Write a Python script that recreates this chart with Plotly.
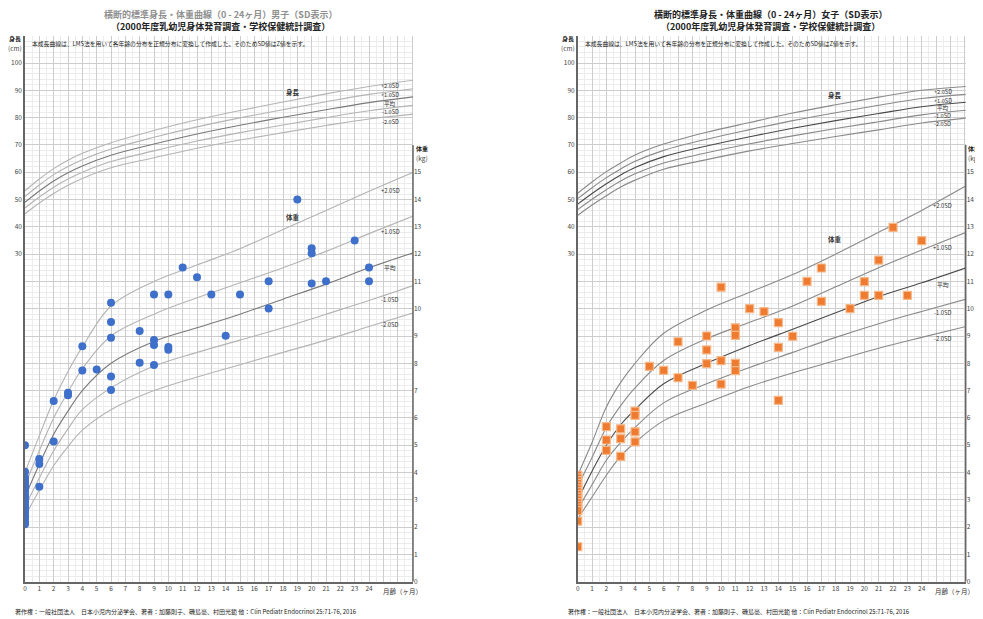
import plotly.graph_objects as go

W, H = 983, 619
OFF = 8                      # page body margin in the browser
FW, FH = W - OFF, H - OFF    # figure size so it fits the window

# ---------------- data ----------------
curve_months = [0, 1, 2, 3, 4, 6, 9, 12, 15, 18, 21, 24, 27.1]
sd_labels = ["+2.0SD", "+1.0SD", "平均", "-1.0SD", "-2.0SD"]
month_ticks = list(range(0, 25))
height_ticks = [30, 40, 50, 60, 70, 80, 90, 100]
weight_ticks = list(range(0, 16))

# boys height (cm)
boys_h_p2 = [53.2, 57.5, 61.3, 64.4, 66.9, 70.8, 75.3, 79.2, 82.6, 85.7, 88.7, 91.4, 93.7]
boys_h_p1 = [51.1, 55.3, 59.1, 62.1, 64.6, 68.5, 72.8, 76.6, 79.9, 82.9, 85.8, 88.5, 90.6]
boys_h_m0 = [49.0, 53.1, 56.8, 59.8, 62.3, 66.2, 70.3, 74.0, 77.2, 80.1, 82.9, 85.5, 87.6]
boys_h_n1 = [46.9, 50.9, 54.5, 57.5, 60.0, 63.9, 67.8, 71.4, 74.5, 77.3, 80.0, 82.5, 84.5]
boys_h_n2 = [44.8, 48.7, 52.2, 55.2, 57.7, 61.6, 65.3, 68.8, 71.8, 74.5, 77.1, 79.5, 81.3]
# boys weight (kg)
boys_w_p2 = [4.0, 5.35, 6.65, 7.7, 8.6, 10.1, 11.0, 11.6, 12.2, 12.9, 13.6, 14.3, 15.0]
boys_w_p1 = [3.55, 4.8, 6.0, 6.95, 7.8, 9.0, 9.8, 10.4, 10.95, 11.5, 12.1, 12.75, 13.4]
boys_w_m0 = [3.1, 4.3, 5.4, 6.25, 7.0, 8.0, 8.8, 9.3, 9.8, 10.35, 10.9, 11.5, 12.05]
boys_w_n1 = [2.75, 3.8, 4.8, 5.6, 6.3, 7.1, 7.9, 8.4, 8.85, 9.3, 9.8, 10.3, 10.85]
boys_w_n2 = [2.4, 3.35, 4.25, 4.95, 5.55, 6.3, 7.0, 7.5, 7.95, 8.4, 8.85, 9.35, 9.85]

# girls height (cm)
girls_h_p2 = [52.3, 56.4, 60.2, 63.4, 66.3, 70.3, 74.6, 78.2, 81.7, 84.7, 87.5, 90.0, 91.4]
girls_h_p1 = [50.3, 54.3, 58.0, 61.2, 64.0, 68.0, 72.1, 75.6, 78.9, 81.8, 84.5, 87.0, 88.5]
girls_h_m0 = [48.3, 52.2, 55.8, 59.0, 61.7, 65.7, 69.6, 73.0, 76.1, 78.9, 81.5, 84.0, 85.6]
girls_h_n1 = [46.3, 50.1, 53.6, 56.8, 59.4, 63.4, 67.1, 70.4, 73.3, 76.0, 78.5, 81.0, 82.7]
girls_h_n2 = [44.2, 48.0, 51.4, 54.6, 57.1, 61.1, 64.6, 67.8, 70.5, 73.1, 75.5, 78.0, 79.8]
# girls weight (kg)
girls_w_p2 = [3.9, 5.1, 6.4, 7.3, 8.0, 9.1, 9.95, 10.6, 11.25, 12.0, 12.8, 13.6, 14.5]
girls_w_p1 = [3.5, 4.55, 5.65, 6.45, 7.1, 8.1, 8.9, 9.5, 10.1, 10.8, 11.5, 12.15, 12.8]
girls_w_m0 = [3.0, 4.05, 5.0, 5.75, 6.3, 7.25, 8.0, 8.65, 9.25, 9.85, 10.45, 10.95, 11.5]
girls_w_n1 = [2.65, 3.55, 4.45, 5.1, 5.65, 6.55, 7.25, 7.85, 8.4, 8.95, 9.45, 9.9, 10.35]
girls_w_n2 = [2.3, 3.1, 3.9, 4.6, 5.1, 5.9, 6.55, 7.15, 7.65, 8.1, 8.55, 8.95, 9.35]

# measured points (boys)
boys_month = [0] * 20 + [1, 1, 1, 2, 2, 3, 3, 4, 4, 5, 6, 6, 6, 6, 6, 8, 8, 9, 9, 9, 9,
                         10, 10, 10, 11, 12, 13, 14, 15, 17, 17, 19, 20, 20, 20, 21, 23, 24, 24]
boys_weight = [5.0, 4.03, 3.82, 3.72, 3.62, 3.52, 3.42, 3.32, 3.22, 3.12, 3.02, 2.92, 2.82,
               2.72, 2.62, 2.52, 2.42, 2.32, 2.2, 2.1,
               4.49, 4.31, 3.48, 6.62, 5.14, 6.92, 6.83, 8.62, 7.74, 7.77,
               10.22, 9.51, 8.94, 7.52, 7.02, 9.18, 8.02, 10.52, 8.85, 8.67, 7.94,
               10.52, 8.6, 8.5, 11.51, 11.15, 10.52, 9.01, 10.52, 11.01, 10.01, 14.0,
               12.21, 12.03, 10.92, 11.01, 12.5, 11.51, 11.01]

# measured points (girls)
girls_month = [0] * 16 + [2, 2, 2, 3, 3, 3, 4, 4, 4, 4, 5, 6, 7, 7, 8, 9, 9, 9, 10, 10, 10,
                          11, 11, 11, 11, 12, 13, 14, 14, 14, 15, 16, 17, 17, 19, 20, 20, 21, 21,
                          22, 23, 24]
girls_weight = [3.9, 3.8, 3.7, 3.6, 3.5, 3.4, 3.3, 3.2, 3.1, 3.0, 2.9, 2.8, 2.7, 2.6, 2.22, 1.28,
                5.68, 5.19, 4.81, 5.6, 5.24, 4.59, 6.25, 6.09, 5.49, 5.12, 7.89, 7.74,
                8.79, 7.47, 7.19, 9.0, 8.49, 7.99, 10.79, 8.1, 7.24,
                9.3, 9.02, 8.0, 7.73, 10.0, 9.89, 9.49, 8.58, 6.64, 8.99, 11.0, 11.49, 10.27,
                10.0, 10.99, 10.49, 11.78, 10.49, 12.98, 10.49, 12.49]

# ---------------- layout geometry (window pixels) ----------------
PX_Y0, PX_YTOP = 581.7, 35.7      # 0 kg and top of plot (20 kg)
L_X0, L_X1 = 25.0, 413.0
R_X0, R_X1 = 577.7, 965.7
XMAX = 27.07


def px(x):
    return (x - OFF) / FW


def py(y):
    return 1 - (y - OFF) / FH


fig = go.Figure()

FONT = "Noto Sans CJK JP, Noto Sans, sans-serif"


def add_panel(xa, ya_w, ya_h, hcurves, wcurves, pm, pw, marker, light, dark):
    for i, c in enumerate(hcurves):
        fig.add_trace(go.Scatter(x=curve_months, y=c, mode="lines", xaxis=xa, yaxis=ya_h,
                                 line=dict(color=dark if i == 2 else light, width=1.1, shape="spline"),
                                 hoverinfo="skip", showlegend=False))
    for i, c in enumerate(wcurves):
        fig.add_trace(go.Scatter(x=curve_months, y=c, mode="lines", xaxis=xa, yaxis=ya_w,
                                 line=dict(color=dark if i == 2 else light, width=1.1, shape="spline"),
                                 hoverinfo="skip", showlegend=False))
    fig.add_trace(go.Scatter(x=pm, y=pw, mode="markers", xaxis=xa, yaxis=ya_w,
                             marker=marker, showlegend=False))


add_panel("x", "y", "y2",
          [boys_h_p2, boys_h_p1, boys_h_m0, boys_h_n1, boys_h_n2],
          [boys_w_p2, boys_w_p1, boys_w_m0, boys_w_n1, boys_w_n2],
          boys_month, boys_weight,
          dict(symbol="circle", size=8, color="#3d6fcb", line=dict(width=0)),
          "#b4b4b4", "#7a7a7a")
add_panel("x2", "y3", "y4",
          [girls_h_p2, girls_h_p1, girls_h_m0, girls_h_n1, girls_h_n2],
          [girls_w_p2, girls_w_p1, girls_w_m0, girls_w_n1, girls_w_n2],
          girls_month, girls_weight,
          dict(symbol="square", size=8, color="#ee7b30", line=dict(width=1.2, color="#f6b889")),
          "#8a8a8a", "#4a4a4a")

y_dom = [py(PX_Y0), py(PX_YTOP)]
tickfont = dict(family=FONT, size=6.5, color="#444")
MAJ = "#cdcdcd"
MIN = "#ececec"

xt_vals = list(range(0, 28))
xt_text = [str(v) if v in month_ticks else "" for v in xt_vals]
yt_vals = list(range(0, 21))
yt_text = [str(v) if v in weight_ticks else "" for v in yt_vals]

def xaxis_cfg(dom, anchor):
    return dict(domain=dom, anchor=anchor, range=[0, XMAX], tickmode="array", tickvals=xt_vals,
                ticktext=xt_text, showgrid=True, gridcolor=MAJ, gridwidth=1, zeroline=False,
                showline=True, linecolor="#666", linewidth=1.5, ticks="", tickfont=tickfont,
                automargin=False,
                minor=dict(tickmode="linear", tick0=0, dtick=0.5, showgrid=True, gridcolor=MIN,
                           gridwidth=1, ticks=""))


def yw_cfg(anchor):
    return dict(domain=y_dom, anchor=anchor, side="right", range=[0, 20], tickmode="array",
                tickvals=yt_vals, ticktext=yt_text, showgrid=True, gridcolor=MAJ, gridwidth=1,
                zeroline=False, showline=False, ticks="", tickfont=tickfont, automargin=False,
                minor=dict(tickmode="linear", tick0=0, dtick=0.2, showgrid=True, gridcolor=MIN,
                           gridwidth=1, ticks=""))


def yh_cfg(anchor, over):
    return dict(overlaying=over, anchor=anchor, side="left", range=[-90, 110], tickmode="array",
                tickvals=height_ticks, ticktext=[str(v) for v in height_ticks], showgrid=False,
                zeroline=False, showline=True, linecolor="#666", linewidth=1.5, ticks="",
                tickfont=tickfont, automargin=False)


fig.update_layout(
    width=FW, height=FH, margin=dict(l=0, r=0, t=0, b=0, autoexpand=False),
    paper_bgcolor="white", plot_bgcolor="white", showlegend=False,
    font=dict(family=FONT),
    xaxis=xaxis_cfg([px(L_X0), px(L_X1)], "y"),
    yaxis=yw_cfg("x"),
    yaxis2=yh_cfg("x", "y"),
    xaxis2=xaxis_cfg([px(R_X0), px(R_X1)], "y3"),
    yaxis3=yw_cfg("x2"),
    yaxis4=yh_cfg("x2", "y3"),
)

# weight axis lines (0-16 kg)
for xr, yr in (("x domain", "y"), ("x2 domain", "y3")):
    fig.add_shape(type="line", xref=xr, yref=yr, x0=1, x1=1, y0=0, y1=16,
                  line=dict(color="#666", width=1.5))

anns = []


def ann(x, y, text, size=6.5, color="#333", bold=False, xanchor="center"):
    t = f"<b>{text}</b>" if bold else text
    anns.append(dict(x=px(x), y=py(y), xref="paper", yref="paper", text=t, showarrow=False,
                     xanchor=xanchor, yanchor="middle",
                     font=dict(family=FONT, size=size, color=color)))


title_l = "横断的標準身長・体重曲線（0 - 24ヶ月）男子（SD表示）"
title_r = "横断的標準身長・体重曲線（0 - 24ヶ月）女子（SD表示）"
subtitle = "（2000年度乳幼児身体発育調査・学校保健統計調査）"
note = "本成長曲線は、LMS法を用いて各年齢の分布を正規分布に変換して作成した。そのためSD値はZ値を示す。"
footer = "著作権：一般社団法人　日本小児内分泌学会、著者：加藤則子、磯島豪、村田光範 他：Clin Pediatr Endocrinol 25:71-76, 2016"

for (x0, title, tcol, cx) in ((L_X0, title_l, "#8f8f8f", 220), (R_X0, title_r, "#222", 770)):
    ann(cx, 14, title, size=9, color=tcol, bold=True)
    ann(cx, 27, subtitle, size=9, color="#222", bold=True)
    ann(x0 + 5, 44, note, size=5.8, color="#222", xanchor="left")
    ann(x0 - 10, 38, "身長", size=6, color="#222", bold=True)
    ann(x0 - 10, 48.5, "(cm)", size=6.5, color="#444")
    ann(x0 + 396.5, 148, "体重", size=6, color="#222", bold=True)
    ann(x0 + 396.5, 158.5, "(kg)", size=6.5, color="#444")
    ann(x0 + 377, 591, "月齢（ヶ月）", size=6.5, color="#333")
    ann(x0 - 12, 611, footer, size=6, color="#222", xanchor="left")

# curve labels
for (x0, hl, wl, hys, wys) in (
        (L_X0, (293, 92), (293, 217.5), [86, 95, 103.5, 112, 121.5], [190, 231, 268, 299, 324.5]),
        (R_X0, (835, 95), (835, 239), [92, 100.5, 108.5, 116, 123.5], [205.5, 247.5, 284.5, 312, 338.5])):
    ann(hl[0], hl[1], "身長", size=6.5, color="#333", bold=True)
    ann(wl[0], wl[1], "体重", size=6.5, color="#333", bold=True)
    for lab, yy in zip(sd_labels, hys):
        ann(x0 + 365, yy, lab, size=5.6, color="#333")
    for lab, yy in zip(sd_labels, wys):
        ann(x0 + 365, yy, lab, size=5.8, color="#333")

fig.update_layout(annotations=anns)
fig.write_html("out.html")
